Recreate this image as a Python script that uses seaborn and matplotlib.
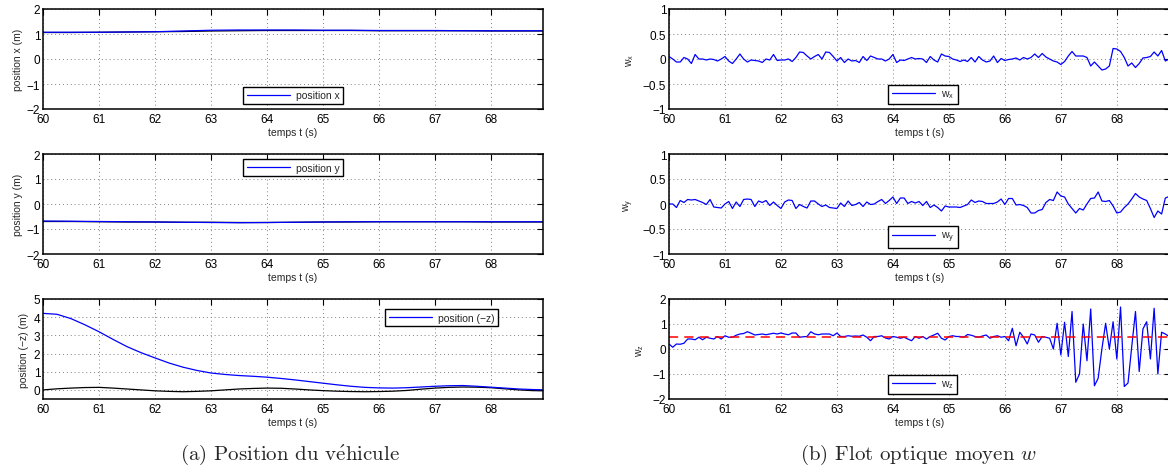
import numpy as np
import matplotlib
matplotlib.use("Agg")
import matplotlib.pyplot as plt
from matplotlib.ticker import FuncFormatter
import seaborn as sns

# ---- position du véhicule ----
t_xy = [60.0 + 0.5 * i for i in range(19)]
pos_x = [1.07, 1.07, 1.07, 1.08, 1.09, 1.12, 1.15, 1.16, 1.16, 1.16,
         1.15, 1.15, 1.14, 1.14, 1.14, 1.13, 1.13, 1.13, 1.13]
pos_x_ref = [1.06, 1.06, 1.07, 1.08, 1.09, 1.10, 1.12, 1.13, 1.14, 1.14,
             1.14, 1.14, 1.13, 1.13, 1.13, 1.13, 1.12, 1.12, 1.12]
pos_y = [-0.68, -0.69, -0.70, -0.71, -0.72, -0.73, -0.74, -0.75, -0.74, -0.73,
         -0.72, -0.71, -0.71, -0.71, -0.71, -0.71, -0.71, -0.71, -0.71]
pos_y_ref = [-0.70, -0.70, -0.71, -0.72, -0.72, -0.73, -0.73, -0.74, -0.74, -0.73,
             -0.72, -0.72, -0.71, -0.71, -0.71, -0.71, -0.72, -0.72, -0.72]

t_z = [60.0 + 0.25 * i for i in range(37)]
pos_z = [4.21, 4.16, 3.92, 3.58, 3.20, 2.78, 2.38, 2.05, 1.76, 1.48,
         1.25, 1.07, 0.93, 0.85, 0.79, 0.75, 0.70, 0.63, 0.55, 0.46,
         0.37, 0.28, 0.20, 0.14, 0.11, 0.10, 0.12, 0.16, 0.20, 0.23,
         0.24, 0.20, 0.15, 0.10, 0.05, 0.02, 0.00]
pos_z_ref = [0.00, 0.06, 0.10, 0.13, 0.14, 0.10, 0.05, 0.00, -0.05, -0.08,
             -0.10, -0.08, -0.05, 0.00, 0.05, 0.08, 0.10, 0.09, 0.05, 0.00,
             -0.04, -0.07, -0.09, -0.10, -0.09, -0.07, -0.03, 0.04, 0.10, 0.14,
             0.16, 0.15, 0.12, 0.06, 0.00, -0.04, -0.05]

# ---- flot optique moyen w (15 Hz) ----
wx = [0.05, 0.0, -0.06, -0.06, 0.03, 0.0, -0.09, 0.09, 0.0, 0.0,
      -0.02, 0.0, -0.01, -0.04, 0.0, 0.05, -0.04, -0.09, 0.0, 0.1,
      0.0, -0.06, -0.02, -0.03, -0.04, -0.07, 0.0, -0.02, 0.09, -0.03,
      -0.02, -0.02, 0.0, -0.05, 0.03, 0.14, 0.13, 0.06, 0.0, 0.05,
      0.09, 0.0, 0.14, 0.13, 0.05, -0.04, 0.03, -0.07, 0.0, -0.04,
      -0.03, -0.07, 0.05, -0.03, 0.06, 0.03, 0.0, 0.0, -0.04, 0.0,
      0.09, -0.07, -0.02, -0.03, 0.0, 0.03, 0.0, 0.01, 0.0, -0.07,
      0.05, -0.02, -0.06, 0.1, 0.06, 0.05, 0.0, -0.02, -0.05, -0.02,
      -0.05, 0.03, -0.06, 0.05, -0.02, -0.06, -0.04, 0.06, -0.07, 0.01,
      -0.03, -0.01, 0.0, 0.02, -0.02, 0.03, 0.0, 0.03, 0.1, 0.03,
      0.11, 0.04, 0.0, -0.04, -0.06, -0.11, -0.05, 0.06, 0.15, 0.06,
      0.06, 0.06, 0.03, -0.14, -0.06, -0.14, -0.22, -0.2, -0.14, 0.21,
      0.2, 0.15, 0.03, -0.14, -0.08, -0.17, -0.09, 0.02, 0.03, 0.05,
      0.14, 0.06, 0.17, -0.04, 0.0]
wy = [0.0, 0.0, -0.07, 0.07, 0.03, 0.09, 0.08, 0.09, 0.06, 0.03,
      -0.01, 0.09, -0.06, -0.07, -0.08, 0.0, 0.05, -0.09, 0.04, -0.05,
      0.09, 0.1, 0.09, -0.05, 0.06, 0.03, 0.07, -0.03, 0.04, -0.03,
      -0.09, 0.04, 0.08, 0.07, -0.09, -0.01, -0.05, -0.08, 0.06, 0.06,
      0.0, -0.05, -0.02, -0.07, -0.08, -0.09, 0.02, -0.05, 0.06, -0.03,
      -0.01, 0.03, -0.05, 0.04, -0.01, 0.0, 0.05, 0.09, 0.01, 0.07,
      0.14, 0.01, 0.12, 0.12, 0.01, 0.05, 0.02, 0.05, -0.03, 0.05,
      -0.07, -0.02, -0.07, -0.14, -0.04, -0.06, -0.06, -0.06, -0.07, -0.04,
      -0.01, 0.08, 0.03, 0.06, 0.05, 0.01, 0.01, 0.01, 0.04, 0.1,
      -0.01, 0.11, 0.11, -0.02, -0.01, -0.03, -0.07, -0.18, -0.18, -0.13,
      -0.11, 0.03, 0.09, 0.07, 0.24, 0.16, 0.14, 0.0, -0.09, -0.18,
      -0.09, -0.12, 0.0, 0.11, 0.12, 0.24, 0.06, 0.05, 0.07, -0.04,
      -0.18, -0.16, -0.07, 0.0, 0.1, 0.21, 0.14, 0.1, 0.07, -0.09,
      -0.27, -0.14, -0.2, 0.12, 0.15]
wz = [0.2, 0.07, 0.2, 0.19, 0.23, 0.4, 0.4, 0.37, 0.47, 0.37,
      0.47, 0.43, 0.4, 0.5, 0.4, 0.53, 0.47, 0.47, 0.55, 0.6,
      0.62, 0.69, 0.63, 0.56, 0.58, 0.6, 0.57, 0.6, 0.63, 0.6,
      0.64, 0.6, 0.57, 0.64, 0.64, 0.47, 0.49, 0.5, 0.69, 0.6,
      0.57, 0.6, 0.6, 0.6, 0.53, 0.64, 0.5, 0.5, 0.53, 0.51,
      0.52, 0.51, 0.56, 0.47, 0.33, 0.5, 0.5, 0.53, 0.44, 0.4,
      0.5, 0.47, 0.43, 0.47, 0.4, 0.33, 0.5, 0.43, 0.5, 0.4,
      0.5, 0.56, 0.63, 0.43, 0.36, 0.5, 0.53, 0.5, 0.5, 0.47,
      0.58, 0.55, 0.5, 0.47, 0.52, 0.56, 0.43, 0.5, 0.53, 0.47,
      0.5, 0.33, 0.83, 0.13, 0.67, 0.47, 0.2, 0.6, 0.56, 0.27,
      0.5, 0.47, 0.43, 0.0, 1.03, -0.24, 1.07, -0.3, 1.5, -1.33,
      -1.0, 1.0, -0.47, 1.6, -1.47, -1.17, 0.0, 1.03, 0.0, 1.09,
      -0.4, 1.68, -1.5, -1.36, 0.1, 1.5, -0.9, 0.8, 1.09, -0.4,
      1.63, -1.0, 0.67, 0.6, 0.5]
wz_ref = 0.5
t_w = 60 + np.arange(len(wz)) / 15.0

BLUE = "#0000ff"
W, H = 1168, 477

sns.set_style("white")
plt.rcParams["font.family"] = ["Liberation Sans", "DejaVu Sans"]
plt.rcParams["mathtext.fontset"] = "cm"
plt.rcParams["axes.unicode_minus"] = True

fig = plt.figure(figsize=(W / 100, H / 100), dpi=100)


def px_axes(x0, y0, x1, y1):
    return fig.add_axes([x0 / W, 1 - y1 / H, (x1 - x0) / W, (y1 - y0) / H])


fmt = FuncFormatter(lambda v, p: f"{v:g}".replace("-", "\u2212"))


def style(ax, xmax, ylim, yticks, ylabel, ylabelpad=3):
    ax.set_xlim(60, xmax)
    ax.set_ylim(*ylim)
    ax.set_xticks(range(60, 69))
    ax.set_yticks(yticks)
    ax.yaxis.set_major_formatter(fmt)
    ax.grid(True, linestyle=(0, (1, 3)), color="0.5", linewidth=0.7)
    ax.tick_params(direction="in", top=True, right=True, length=4, width=0.8,
                   labelsize=8.5, colors="black")
    ax.tick_params(axis="x", pad=3)
    ax.tick_params(axis="y", pad=2)
    for s in ax.spines.values():
        s.set_linewidth(1.1)
        s.set_color("black")
    ax.set_xlabel("temps t (s)", fontsize=7.5, labelpad=1)
    ax.set_ylabel(ylabel, fontsize=7.5, labelpad=ylabelpad)


def add_legend(ax, line, label, **kw):
    leg = ax.legend([line], [label], fancybox=False, framealpha=1,
                    edgecolor="black", fontsize=7.5, handlelength=4.2,
                    borderpad=0.35, handletextpad=0.5, borderaxespad=0, **kw)
    leg.get_frame().set_linewidth(1.0)


# ---- (a) position du véhicule ----
ax1 = px_axes(43, 10, 543, 110)
sns.lineplot(x=t_xy, y=pos_x_ref, ax=ax1, color="black", linewidth=0.9)
sns.lineplot(x=t_xy, y=pos_x, ax=ax1, color=BLUE, linewidth=0.9)
style(ax1, 68.93, (-2, 2), [-2, -1, 0, 1, 2], "position x (m)")
add_legend(ax1, ax1.get_lines()[-1], "position x", loc="lower center",
           bbox_to_anchor=(0.5, 0.05))

ax2 = px_axes(43, 155, 543, 255)
sns.lineplot(x=t_xy, y=pos_y_ref, ax=ax2, color="black", linewidth=0.9)
sns.lineplot(x=t_xy, y=pos_y, ax=ax2, color=BLUE, linewidth=0.9)
style(ax2, 68.93, (-2, 2), [-2, -1, 0, 1, 2], "position y (m)")
add_legend(ax2, ax2.get_lines()[-1], "position y", loc="upper center",
           bbox_to_anchor=(0.5, 0.95))

ax3 = px_axes(43, 300, 543, 400)
sns.lineplot(x=t_z, y=pos_z_ref, ax=ax3, color="black", linewidth=0.9)
sns.lineplot(x=t_z, y=pos_z, ax=ax3, color=BLUE, linewidth=0.9)
style(ax3, 68.93, (-0.5, 5), [0, 1, 2, 3, 4, 5], "position (\u2212z) (m)")
add_legend(ax3, ax3.get_lines()[-1], "position (\u2212z)", loc="upper center",
           bbox_to_anchor=(0.797, 0.90))

# ---- (b) flot optique moyen ----
ax4 = px_axes(669, 10, 1170, 110)
sns.lineplot(x=t_w, y=wx, ax=ax4, color=BLUE, linewidth=0.9)
style(ax4, 68.95, (-1, 1), [-1, -0.5, 0, 0.5, 1], r"w$_\mathregular{x}$", 5)
add_legend(ax4, ax4.get_lines()[-1], r"w$_\mathregular{x}$", loc="lower left",
           bbox_to_anchor=(0.437, 0.05))

ax5 = px_axes(669, 155, 1170, 255)
sns.lineplot(x=t_w, y=wy, ax=ax5, color=BLUE, linewidth=0.9)
style(ax5, 68.95, (-1, 1), [-1, -0.5, 0, 0.5, 1], r"w$_\mathregular{y}$", 5)
add_legend(ax5, ax5.get_lines()[-1], r"w$_\mathregular{y}$", loc="lower left",
           bbox_to_anchor=(0.437, 0.06))

ax6 = px_axes(669, 300, 1170, 400)
sns.lineplot(x=t_w, y=wz, ax=ax6, color=BLUE, linewidth=0.9)
ax6.axhline(wz_ref, color="red", linestyle=(0, (6, 4)), linewidth=1.1)
style(ax6, 68.95, (-2, 2), [-2, -1, 0, 1, 2], r"w$_\mathregular{z}$", 5)
add_legend(ax6, ax6.get_lines()[0], r"w$_\mathregular{z}$", loc="lower left",
           bbox_to_anchor=(0.437, 0.05))

cap_font = ["cmr10", "DejaVu Serif"]
fig.text(290 / W, 1 - 455 / H, r"(a) Position du v$\mathrm{\acute{e}}$hicule",
         family=cap_font, fontsize=15, ha="center", va="center")
fig.text(918 / W, 1 - 455 / H, "(b) Flot optique moyen $w$", family=cap_font,
         fontsize=15, ha="center", va="center")

fig.savefig("out.png", dpi=100)
